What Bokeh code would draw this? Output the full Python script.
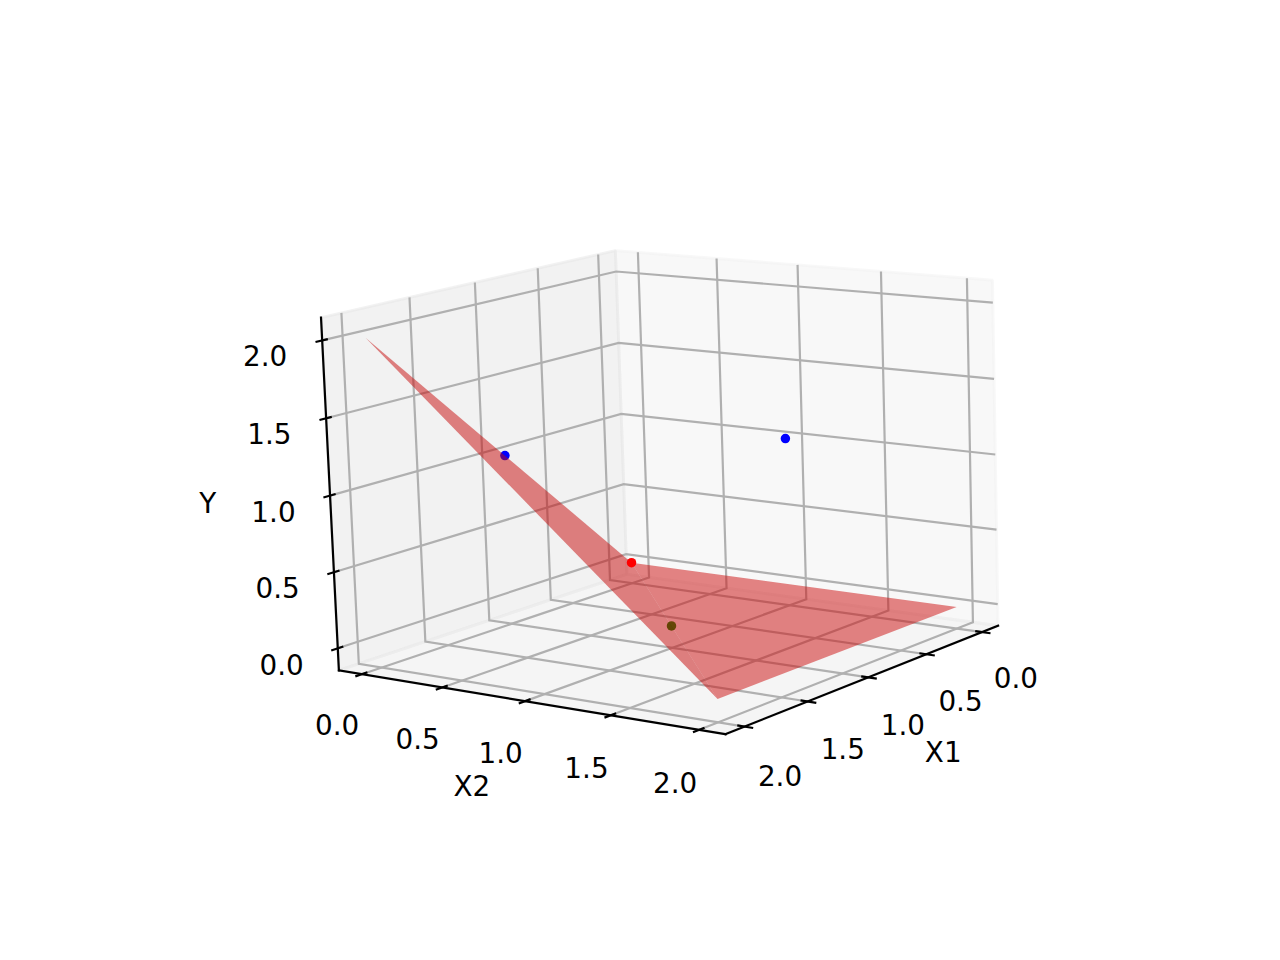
import numpy as np
from bokeh.plotting import figure
from bokeh.models import Range1d
from bokeh.core.properties import value
from bokeh.embed import file_html
from bokeh.resources import INLINE

# ---- data ----
TICKS = [0.0, 0.5, 1.0, 1.5, 2.0]
TICK_LABELS = ["0.0", "0.5", "1.0", "1.5", "2.0"]
AXIS_NAMES = ["X1", "X2", "Y"]
POINT_X1 = [0, 1, 1, 0]
POINT_X2 = [0, 1, 0, 1]
POINT_Y = [0, 0, 1, 1]
POINT_COLORS = ["#ff0000", "#008000", "#0000ff", "#0000ff"]
FACET_X1 = [[0, 0, 2], [0, 2, 2]]
FACET_X2 = [[0, 2, 2], [0, 0, 2]]
FACET_Y = [[0, 0, 0], [0, 2, 0]]
FACET_COLORS = ["#cb0b0b", "#c60808"]

# ---- view (matplotlib mplot3d camera) ----
ELEV, AZIM, DIST, ROLL = 11.7, 37.0, 10.0, 1.9
LIM = (-0.1, 2.1)
DELTA = (LIM[1] - LIM[0]) / 12
PMIN, PMAX = LIM[0] - DELTA / 4, LIM[1] + DELTA / 4
BOX = np.array([4.0, 4.0, 3.0]) * 1.8294640721620434 / np.linalg.norm([4, 4, 3])
SHIFT_X, SHIFT_Y = 8.0, 7.5
LABEL_DY = 12.0
NAME_DY = 0.0


def make_matrix():
    span = LIM[1] - LIM[0]
    world = np.diag([BOX[0] / span, BOX[1] / span, BOX[2] / span, 1.0])
    world[:3, 3] = -LIM[0] * BOX / span
    R = BOX / 2
    e, a = np.radians(ELEV), np.radians(AZIM)
    eye = R + DIST * np.array([np.cos(e) * np.cos(a), np.cos(e) * np.sin(a), np.sin(e)])
    n = (eye - R) / np.linalg.norm(eye - R)
    u = np.cross([0, 0, 1.0], n)
    u /= np.linalg.norm(u)
    v = np.cross(n, u)
    rot = np.eye(4)
    rot[0, :3], rot[1, :3], rot[2, :3] = u, v, n
    tr = np.eye(4)
    tr[:3, 3] = -eye
    r = np.radians(ROLL)
    roll = np.eye(4)
    roll[0, 0], roll[0, 1], roll[1, 0], roll[1, 1] = np.cos(r), -np.sin(r), np.sin(r), np.cos(r)
    persp = np.array([[1, 0, 0, 0], [0, 1, 0, 0], [0, 0, 0, -DIST], [0, 0, -1, 0.0]])
    return persp @ roll @ rot @ tr @ world


M = make_matrix()
AX_PX = 0.77 * 960
SCALE = AX_PX / (1.85 / DIST)
LEFT = (0.125 + 0.775 / 2) * 1280 - AX_PX / 2 + SHIFT_X
BOTTOM = 960 - (0.11 + 0.385) * 960 + AX_PX / 2 + SHIFT_Y


def proj(x, y, z):
    pts = np.vstack([np.asarray(x, float), np.asarray(y, float), np.asarray(z, float),
                     np.ones(len(x))])
    q = M @ pts
    return ((q[0] / q[3] + 0.95 / DIST) * SCALE + LEFT).tolist(), \
           (BOTTOM - (q[1] / q[3] + 0.95 / DIST) * SCALE).tolist()


p = figure(width=1264, height=944, x_range=Range1d(8, 1272), y_range=Range1d(952, 8),
           output_backend="svg", toolbar_location=None, min_border=0,
           outline_line_color=None, background_fill_color="white", border_fill_color="white")
p.axis.visible = False
p.grid.visible = False

FONT = value("DejaVu Sans")
FS = "27.8px"
LW = 2.2

# panes
panes = [
    ([PMIN] * 4, [PMIN, PMAX, PMAX, PMIN], [PMIN, PMIN, PMAX, PMAX], "#f2f2f2"),  # x1 plane
    ([PMIN, PMAX, PMAX, PMIN], [PMIN] * 4, [PMIN, PMIN, PMAX, PMAX], "#e6e6e6"),  # x2 plane
    ([PMIN, PMAX, PMAX, PMIN], [PMIN, PMIN, PMAX, PMAX], [PMIN] * 4, "#ececec"),  # floor
]
for px1, px2, pz, col in panes:
    sx, sy = proj(px1, px2, pz)
    p.patch(sx, sy, fill_color=col, fill_alpha=0.5, line_color=col, line_alpha=0.5, line_width=2.8)

# grid
GRID = "#b0b0b0"
for t in TICKS:
    for line in (
        ([t, t, t], [PMIN, PMIN, PMAX], [PMAX, PMIN, PMIN]),
        ([PMIN, PMIN, PMAX], [t, t, t], [PMAX, PMIN, PMIN]),
        ([PMAX, PMIN, PMIN], [PMIN, PMIN, PMAX], [t, t, t]),
    ):
        sx, sy = proj(*line)
        p.line(sx, sy, line_color=GRID, line_width=LW, line_join="miter")

# axis lines
for line in (
    ([PMIN, PMAX], [PMAX, PMAX], [PMIN, PMIN]),
    ([PMAX, PMAX], [PMIN, PMAX], [PMIN, PMIN]),
    ([PMAX, PMAX], [PMIN, PMIN], [PMIN, PMAX]),
):
    sx, sy = proj(*line)
    p.line(sx, sy, line_color="black", line_width=LW, line_cap="square")

# ticks + tick labels
TD = DELTA
IN, OUT = 0.22 * TD, 0.26 * TD
LAB = (3.5 + 8) * 48 / (2 * 72 * AX_PX / 200) * DELTA
for t, lab in zip(TICKS, TICK_LABELS):
    for line, pos in (
        (([t, t], [PMAX - IN, PMAX + OUT], [PMIN, PMIN]), ([t], [PMAX + LAB], [PMIN - LAB])),
        (([PMAX - IN, PMAX + OUT], [t, t], [PMIN, PMIN]), ([PMAX + LAB], [t], [PMIN - LAB])),
        (([PMAX - IN, PMAX + OUT], [PMIN, PMIN], [t, t]), ([PMAX + LAB], [PMIN - LAB], [t])),
    ):
        sx, sy = proj(*line)
        p.line(sx, sy, line_color="black", line_width=LW)
        tx, ty = proj(*pos)
        p.text(tx, [v + LABEL_DY for v in ty], text=[lab], text_font=FONT, text_font_size=FS,
               text_color="black", text_align="center", text_baseline="middle")

# axis names
MID = (PMIN + PMAX) / 2
NAME_D = 0.41
for name, pos in zip(AXIS_NAMES, (
    ([MID], [PMAX + NAME_D], [PMIN - NAME_D]),
    ([PMAX + NAME_D], [MID], [PMIN - NAME_D]),
    ([PMAX + NAME_D], [PMIN - NAME_D], [MID]),
)):
    tx, ty = proj(*pos)
    p.text(tx, [v + NAME_DY for v in ty], text=[name], text_font=FONT, text_font_size=FS,
           text_color="black", text_align="center", text_baseline="middle")

# points under the surface
for i in (1, 2, 3):
    sx, sy = proj([POINT_X1[i]], [POINT_X2[i]], [POINT_Y[i]])
    p.scatter(sx, sy, size=9.5, fill_color=POINT_COLORS[i], line_color=None)

# surface
for fx, fy, fz, col in zip(FACET_X1, FACET_X2, FACET_Y, FACET_COLORS):
    sx, sy = proj(fx, fy, fz)
    p.patch(sx, sy, fill_color=col, fill_alpha=0.5, line_color=None)

# point on top of the surface
sx, sy = proj([POINT_X1[0]], [POINT_X2[0]], [POINT_Y[0]])
p.scatter(sx, sy, size=9.5, fill_color=POINT_COLORS[0], line_color=None)

open("out.html", "w").write(file_html(p, INLINE))
